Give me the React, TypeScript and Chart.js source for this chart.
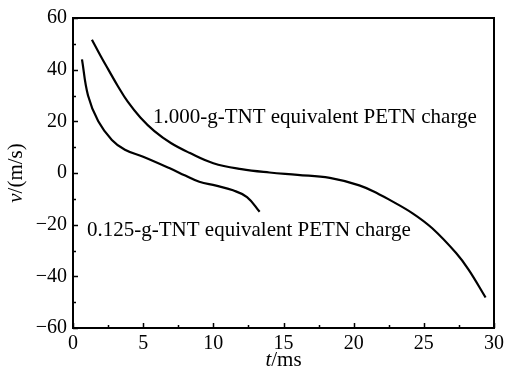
import React, { useEffect, useRef } from "react";
import { Chart, registerables } from "chart.js";

Chart.register(...registerables);

// 1.000-g-TNT equivalent PETN charge
const t1 = [1.35, 2, 2.5, 3.2, 3.9, 4.8, 5.8, 7, 8.3, 10, 12, 14, 16, 18.3, 20.4, 21.8, 22.5, 24.2, 25.6, 27.3, 28.2, 29.4];
const v1 = [51.6, 45, 40.2, 33.6, 27.6, 21.5, 16.2, 11.5, 7.8, 3.8, 1.5, 0.2, -0.7, -1.9, -4.8, -8.2, -10.2, -15.6, -21.4, -31, -37.5, -48.2];
// 0.125-g-TNT equivalent PETN charge
const t2 = [0.64, 1.07, 1.8, 2.77, 3.7, 5.0, 6.9, 8.0, 9.0, 10.2, 11.4, 12.4, 13.3];
const v2 = [44, 30, 20, 12.8, 9, 6.3, 1.8, -1, -3.4, -4.9, -6.7, -9.3, -15];

const label1 = "1.000-g-TNT equivalent PETN charge";
const label2 = "0.125-g-TNT equivalent PETN charge";
const xMajor = [0, 5, 10, 15, 20, 25, 30];
const xMinor = [2.5, 7.5, 12.5, 17.5, 22.5, 27.5];
const yMajor = [-60, -40, -20, 0, 20, 40, 60];
const yMinor = [-50, -30, -10, 10, 30, 50];

const SERIF = "'Liberation Serif', 'DejaVu Serif', serif";

const decor = {
  id: "decor",
  afterDatasetsDraw(chart: any) {
    const { ctx, chartArea: a, scales } = chart;
    const xs = scales.x;
    const ys = scales.y;
    ctx.save();
    ctx.strokeStyle = "#000";
    ctx.lineWidth = 2;
    ctx.strokeRect(a.left, a.top, a.right - a.left, a.bottom - a.top);
    ctx.lineWidth = 1.5;
    ctx.beginPath();
    xMajor.forEach((v) => {
      const p = Math.round(xs.getPixelForValue(v)) + 0.5;
      ctx.moveTo(p, a.bottom);
      ctx.lineTo(p, a.bottom - 5);
    });
    xMinor.forEach((v) => {
      const p = Math.round(xs.getPixelForValue(v)) + 0.5;
      ctx.moveTo(p, a.bottom);
      ctx.lineTo(p, a.bottom - 3);
    });
    yMajor.forEach((v) => {
      const p = Math.round(ys.getPixelForValue(v)) + 0.5;
      ctx.moveTo(a.left, p);
      ctx.lineTo(a.left + 5, p);
    });
    yMinor.forEach((v) => {
      const p = Math.round(ys.getPixelForValue(v)) + 0.5;
      ctx.moveTo(a.left, p);
      ctx.lineTo(a.left + 3, p);
    });
    ctx.stroke();

    ctx.fillStyle = "#000";
    ctx.textBaseline = "alphabetic";
    ctx.textAlign = "left";
    ctx.font = `21px ${SERIF}`;
    ctx.fillText(label1, xs.getPixelForValue(5.7), ys.getPixelForValue(19.5));
    ctx.fillText(label2, xs.getPixelForValue(1.0), ys.getPixelForValue(-24.3));

    // x title: italic t + /ms
    const ital = `italic 21px ${SERIF}`;
    const norm = `21px ${SERIF}`;
    ctx.font = ital;
    const wt = ctx.measureText("t").width;
    ctx.font = norm;
    const wr = ctx.measureText("/ms").width;
    const cx = (a.left + a.right) / 2;
    const x0 = cx - (wt + wr) / 2;
    const by = 366;
    ctx.font = ital;
    ctx.fillText("t", x0, by);
    ctx.font = norm;
    ctx.fillText("/ms", x0 + wt, by);

    // y title: italic v + /(m/s), rotated
    ctx.save();
    ctx.translate(22, (a.top + a.bottom) / 2);
    ctx.rotate(-Math.PI / 2);
    ctx.font = ital;
    const wv = ctx.measureText("v").width;
    ctx.font = norm;
    const wr2 = ctx.measureText("/(m/s)").width;
    const y0 = -(wv + wr2) / 2;
    ctx.font = ital;
    ctx.fillText("v", y0, 0);
    ctx.font = norm;
    ctx.fillText("/(m/s)", y0 + wv, 0);
    ctx.restore();
    ctx.restore();
  },
};

export default function App() {
  const ref = useRef<HTMLCanvasElement | null>(null);
  useEffect(() => {
    document.body.style.margin = "0";
    const canvas = ref.current!;
    const chart = new Chart(canvas, {
      type: "line",
      data: {
        datasets: [
          {
            label: label1,
            data: t1.map((t, i) => ({ x: t, y: v1[i] })),
            borderColor: "#000",
            borderWidth: 2.2,
            pointRadius: 0,
            tension: 0.4,
            fill: false,
          },
          {
            label: label2,
            data: t2.map((t, i) => ({ x: t, y: v2[i] })),
            borderColor: "#000",
            borderWidth: 2.2,
            pointRadius: 0,
            tension: 0.4,
            fill: false,
          },
        ],
      },
      options: {
        responsive: false,
        animation: false,
        devicePixelRatio: 1,
        layout: { padding: { top: 13, right: 13, left: 0, bottom: 0 } },
        plugins: { legend: { display: false }, tooltip: { enabled: false } },
        scales: {
          x: {
            type: "linear",
            min: 0,
            max: 30,
            afterFit: (s: any) => {
              s.height = 46;
            },
            grid: { display: false, drawTicks: false },
            border: { display: false },
            ticks: {
              stepSize: 5,
              padding: 4,
              color: "#000",
              font: { family: SERIF, size: 20 },
              maxRotation: 0,
            },
          },
          y: {
            type: "linear",
            min: -60,
            max: 60,
            afterFit: (s: any) => {
              s.width = 73;
            },
            grid: { display: false, drawTicks: false },
            border: { display: false },
            ticks: {
              stepSize: 20,
              padding: 6,
              color: "#000",
              font: { family: SERIF, size: 20 },
              callback: (v: any) => String(v).replace("-", "\u2212"),
            },
          },
        },
      },
      plugins: [decor],
    });
    return () => chart.destroy();
  }, []);
  return (
    <div style={{ position: "absolute", left: 0, top: 0, width: 508, height: 374 }}>
      <canvas ref={ref} width={508} height={374} style={{ width: 508, height: 374 }} />
    </div>
  );
}
